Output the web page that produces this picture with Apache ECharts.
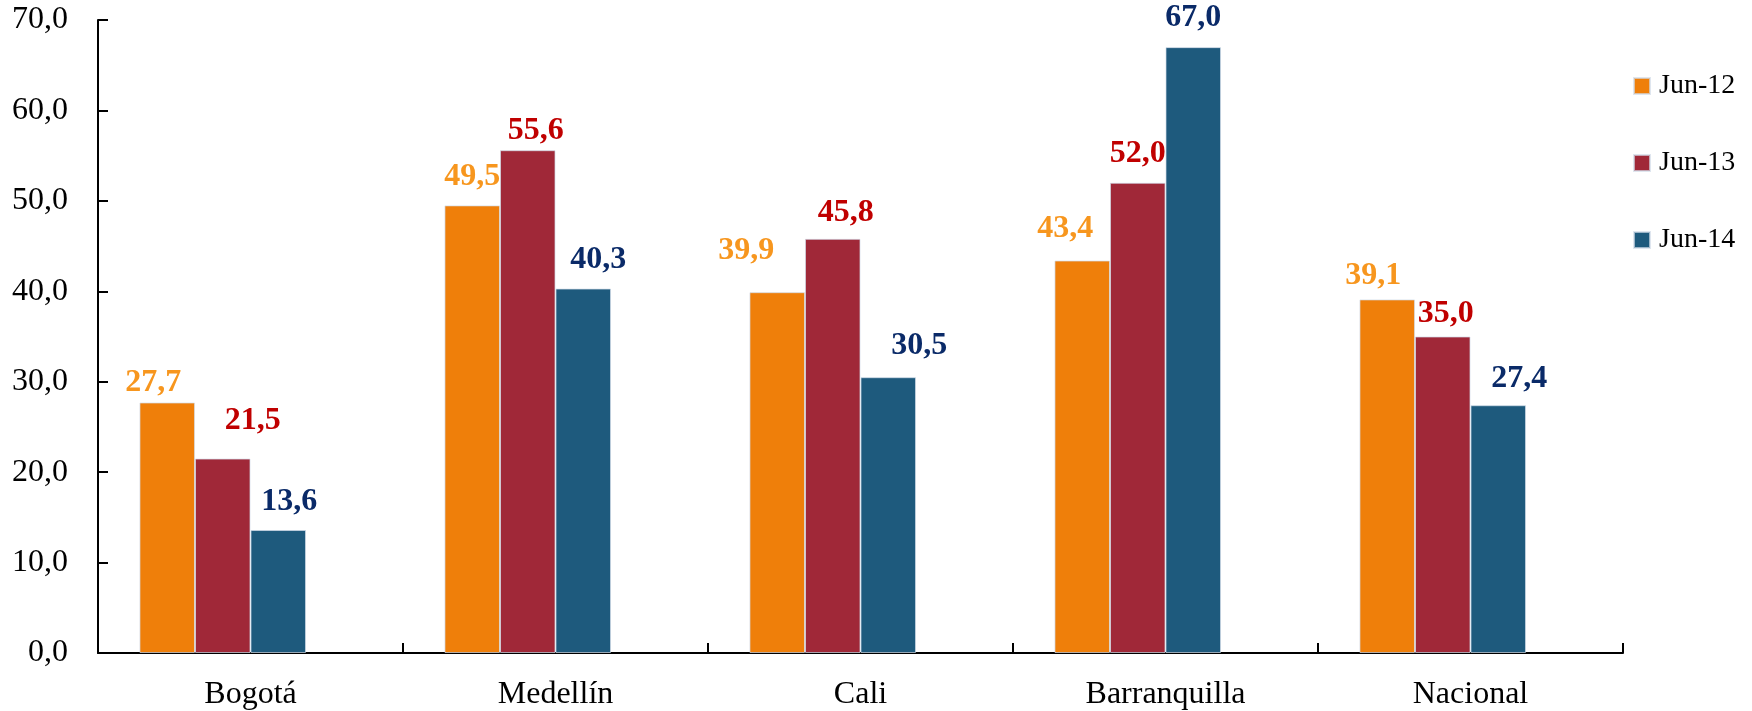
<!DOCTYPE html>
<html>
<head>
<meta charset="utf-8">
<title>Jun-12 / Jun-13 / Jun-14</title>
<script src="https://cdn.jsdelivr.net/npm/echarts@6/dist/echarts.min.js"></script>
<style>
  html, body { margin: 0; padding: 0; background: #fff; }
  #chart { width: 1752px; height: 711px; }
</style>
</head>
<body>
<div id="chart"></div>
<script>
// Cities on the category axis
const categories = ['Bogotá', 'Medellín', 'Cali', 'Barranquilla', 'Nacional'];

// Series names and values
const seriesNames = ['Jun-12', 'Jun-13', 'Jun-14'];
const jun12 = [27.7, 49.5, 39.9, 43.4, 39.1];
const jun13 = [21.5, 55.6, 45.8, 52.0, 35.0];
const jun14 = [13.6, 40.3, 30.5, 67.0, 27.4];

// Value axis ticks
const yTicks = [0, 10, 20, 30, 40, 50, 60, 70];

// Hand-placed data label nudges [dx, dy] in px, per city
const nudge12 = [[-14, -4], [0, -13], [-31, -25], [-17, -16], [-14, -8]];
const nudge13 = [[30, -22], [8, -3], [13, -10], [0, -13], [3, -7]];
const nudge14 = [[11, -12], [15, -13], [31, -15], [0, -13], [21, -10]];

const FONT = '"Liberation Serif", "DejaVu Serif", serif';
const fmt = v => Number(v).toFixed(1).replace('.', ',');

const barColors = ['#EF7F0A', '#A02838', '#1E5A7D'];
const labelColors = ['#F7961E', '#C00000', '#0A2A68'];

function makeSeries(name, values, nudges, idx) {
  return {
    name: name,
    type: 'bar',
    barGap: '0%',
    barCategoryGap: '27.2%',
    itemStyle: {
      color: barColors[idx],
      borderColor: 'rgba(210,220,232,0.7)',
      borderWidth: 1
    },
    label: {
      show: true,
      position: 'top',
      distance: 0,
      fontFamily: FONT,
      fontWeight: 'bold',
      fontSize: 32,
      color: labelColors[idx],
      formatter: p => fmt(p.value)
    },
    data: values.map((v, i) => ({ value: v, label: { offset: nudges[i] } }))
  };
}

const chart = echarts.init(document.getElementById('chart'), null, { renderer: 'canvas' });

chart.setOption({
  animation: false,
  backgroundColor: '#ffffff',
  grid: { left: 98, right: 129, top: 20, bottom: 58 },
  legend: {
    data: seriesNames,
    orient: 'vertical',
    left: 1633,
    top: 71,
    padding: 0,
    itemWidth: 16,
    itemHeight: 16,
    itemGap: 47,
    icon: 'rect',
    textStyle: { fontFamily: FONT, fontSize: 28, color: '#000', lineHeight: 30, padding: [0, 0, 0, 4] }
  },
  xAxis: {
    type: 'category',
    data: categories,
    boundaryGap: true,
    axisLine: { lineStyle: { color: '#000', width: 2 } },
    axisTick: { show: true, inside: true, length: 10, lineStyle: { color: '#000', width: 2 } },
    axisLabel: { fontFamily: FONT, fontSize: 32, color: '#000', margin: 26 },
    splitLine: { show: false }
  },
  yAxis: {
    type: 'value',
    min: yTicks[0],
    max: yTicks[yTicks.length - 1],
    interval: yTicks[1] - yTicks[0],
    axisLine: { show: true, lineStyle: { color: '#000', width: 2 } },
    axisTick: { show: true, inside: true, length: 10, lineStyle: { color: '#000', width: 2 } },
    axisLabel: { fontFamily: FONT, fontSize: 32, color: '#000', margin: 30, formatter: v => fmt(v) },
    splitLine: { show: false }
  },
  series: [
    makeSeries(seriesNames[0], jun12, nudge12, 0),
    makeSeries(seriesNames[1], jun13, nudge13, 1),
    makeSeries(seriesNames[2], jun14, nudge14, 2),
    // empty slot that keeps the group of bars left of each category centre
    { name: 'reserve', type: 'bar', barGap: '0%', barCategoryGap: '27.2%', data: categories.map(() => null), silent: true }
  ]
});
</script>
</body>
</html>
